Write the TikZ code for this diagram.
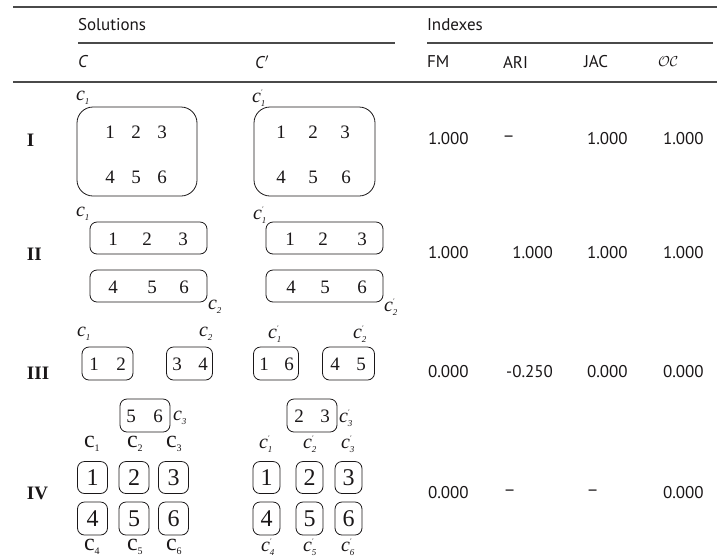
\documentclass[tikz,border=0pt]{standalone}
\usepackage{fontspec}
\usepackage{graphicx}
\setmainfont{PT Sans}
\newfontfamily\tnr{Liberation Serif}
\definecolor{ink}{HTML}{1A1718}
\definecolor{rulec}{HTML}{4A4A4A}
\newcommand{\csub}[1]{\raisebox{-4pt}{\fontsize{9}{9}\selectfont\itshape #1}}
\newcommand{\lc}[1]{{\tnr\fontsize{20}{20}\selectfont\itshape c\csub{#1}}}
\newcommand{\lcp}[1]{{\tnr\fontsize{20}{20}\selectfont\itshape c\rlap{\raisebox{8pt}{\fontsize{7}{7}\selectfont\char"2032}}\csub{#1}}}
\newcommand{\uc}[1]{{\tnr\fontsize{24}{24}\selectfont c\raisebox{-4pt}{\fontsize{10}{10}\selectfont #1}}}
\newcommand{\dsh}{\scalebox{0.8}[1]{—}}
\begin{document}
\begin{tikzpicture}[x=1pt,y=-1pt,
  every node/.style={inner sep=0pt,outer sep=0pt,text=ink},
  hdr/.style={anchor=west,font=\fontsize{17}{17}\selectfont},
  val/.style={anchor=west,font=\fontsize{17}{17}\selectfont},
  valr/.style={anchor=east,font=\fontsize{17}{17}\selectfont},
  rn/.style={anchor=west,font=\tnr\bfseries\fontsize{19}{19}\selectfont},
  lab/.style={anchor=west},
  bx/.style={draw=ink,line width=0.8pt,rounded corners=7pt},
  bigbx/.style={draw=ink,line width=0.8pt,rounded corners=16pt},
  dg/.style={font=\tnr\fontsize{19}{19}\selectfont},
  dgb/.style={font=\tnr\fontsize{24}{24}\selectfont},
  rl/.style={draw=rulec,line width=1.1pt}]
\useasboundingbox (0,0) rectangle (717,558);
% rules
\draw[rl,line width=1.5pt] (13,7) -- (717,7);
\draw[rl] (78,43) -- (395,43);
\draw[rl] (427,43) -- (713,43);
\draw[rl] (13,82) -- (717,82);
% headers
\node[hdr] (hsol) at (78,25) {Solutions};
\node[hdr] (hidx) at (427,25) {Indexes};
\node[hdr] (hc) at (78,62) {\textit{C}};
\node[hdr] (hcp) at (255,62) {\textit{C}$'$};
\node[hdr] (hfm) at (427,62) {FM};
\node[hdr] (hari) at (503,62) {ARI};
\node[hdr] (hjac) at (584,62) {JAC};
\node[hdr] (hoc) at (658,62) {\fontsize{15}{15}\selectfont$\mathcal{OC}$};
% row labels
\node[rn] (r1) at (27,140) {I};
\node[rn] (r2) at (27,254) {II};
\node[rn] (r3) at (27,373) {III};
\node[rn] (r4) at (27,493) {IV};
% values
\node[val] (v1a) at (428,139) {1.000};
\node[val] (v1b) at (503,139) {\dsh};
\node[val] (v1c) at (587,139) {1.000};
\node[val] (v1d) at (663,139) {1.000};
\node[val] (v2a) at (428,253) {1.000};
\node[valr] (v2b) at (553,253) {1.000};
\node[val] (v2c) at (587,253) {1.000};
\node[val] (v2d) at (663,253) {1.000};
\node[val] (v3a) at (428,372) {0.000};
\node[valr] (v3b) at (553,372) {-0.250};
\node[val] (v3c) at (587,372) {0.000};
\node[val] (v3d) at (663,372) {0.000};
\node[val] (v4a) at (428,493) {0.000};
\node[val] (v4b) at (504,493) {\dsh};
\node[val] (v4c) at (587,493) {\dsh};
\node[val] (v4d) at (663,493) {0.000};
% ---------- Row I
\node[bigbx,minimum width=120pt,minimum height=89pt] (b1c) at (137,151.5) {};
\node[bigbx,minimum width=121pt,minimum height=89pt] (b1p) at (314.5,151.5) {};
\node[lab] (l1c) at (76,98) {\lc{1}};
\node[lab] (l1p) at (252,98) {\lcp{1}};
\node[dg] (d1a) at (110,132) {1};
\node[dg] (d1b) at (136,132) {2};
\node[dg] (d1c) at (162,132) {3};
\node[dg] (d1d) at (110,177) {4};
\node[dg] (d1e) at (136,177) {5};
\node[dg] (d1f) at (162,177) {6};
\node[dg] (e1a) at (281,132) {1};
\node[dg] (e1b) at (313,132) {2};
\node[dg] (e1c) at (345,132) {3};
\node[dg] (e1d) at (281,177) {4};
\node[dg] (e1e) at (313,177) {5};
\node[dg] (e1f) at (346,177) {6};
% ---------- Row II
\node[bx,minimum width=117pt,minimum height=32pt] (b2a) at (148.5,238) {};
\node[bx,minimum width=117pt,minimum height=32pt] (b2b) at (148.5,286) {};
\node[bx,minimum width=117pt,minimum height=32pt] (b2c) at (324.5,238) {};
\node[bx,minimum width=117pt,minimum height=32pt] (b2d) at (324.5,286) {};
\node[lab] (l2a) at (76,214) {\lc{1}};
\node[lab] (l2b) at (208,307) {\lc{2}};
\node[lab] (l2c) at (253,215) {\lcp{1}};
\node[lab] (l2d) at (384,307) {\lcp{2}};
\node[dg] (d2a) at (113,239) {1};
\node[dg] (d2b) at (147,239) {2};
\node[dg] (d2c) at (183,239) {3};
\node[dg] (d2d) at (113,287) {4};
\node[dg] (d2e) at (152,287) {5};
\node[dg] (d2f) at (184,287) {6};
\node[dg] (e2a) at (290,239) {1};
\node[dg] (e2b) at (323,239) {2};
\node[dg] (e2c) at (362,239) {3};
\node[dg] (e2d) at (291,287) {4};
\node[dg] (e2e) at (325,287) {5};
\node[dg] (e2f) at (362,287) {6};
% ---------- Row III
\node[bx,minimum width=51pt,minimum height=33pt] (b3a) at (107.5,363.5) {};
\node[bx,minimum width=46pt,minimum height=33pt] (b3b) at (189.5,363.5) {};
\node[bx,minimum width=50pt,minimum height=33pt] (b3c) at (145,415.5) {};
\node[bx,minimum width=45pt,minimum height=33pt] (b3d) at (276,363.5) {};
\node[bx,minimum width=52pt,minimum height=33pt] (b3e) at (348.5,363.5) {};
\node[bx,minimum width=50pt,minimum height=33pt] (b3f) at (312,415.5) {};
\node[lab] (l3a) at (77,334) {\lc{1}};
\node[lab] (l3b) at (199,334) {\lc{2}};
\node[lab] (l3c) at (173,418) {\lc{3}};
\node[lab] (l3d) at (268,334) {\lcp{1}};
\node[lab] (l3e) at (353,334) {\lcp{2}};
\node[lab] (l3f) at (339,418) {\lcp{3}};
\node[dg] (d3a) at (94,364) {1};
\node[dg] (d3b) at (121,364) {2};
\node[dg] (d3c) at (177,364) {3};
\node[dg] (d3d) at (203,364) {4};
\node[dg] (d3e) at (131,416) {5};
\node[dg] (d3f) at (158,416) {6};
\node[dg] (e3a) at (264,364) {1};
\node[dg] (e3b) at (289,364) {6};
\node[dg] (e3c) at (335,364) {4};
\node[dg] (e3d) at (361,364) {5};
\node[dg] (e3e) at (299,416) {2};
\node[dg] (e3f) at (325,416) {3};
% ---------- Row IV
\foreach \n/\x/\d in {a/92.5/1,b/134/2,c/173.5/3}{
  \node[bx,minimum width=30pt,minimum height=32pt] (b4\n) at (\x,477.5) {};
  \node[dgb] (d4\n) at (\x,478) {\d};}
\foreach \n/\x/\d in {d/92.5/4,e/134/5,f/173.5/6}{
  \node[bx,minimum width=30pt,minimum height=33pt] (b4\n) at (\x,518.5) {};
  \node[dgb] (d4\n) at (\x,519) {\d};}
\foreach \n/\x/\d in {a/266.5/1,b/309.5/2,c/348.5/3}{
  \node[bx,minimum width=27pt,minimum height=32pt] (c4\n) at (\x,477.5) {};
  \node[dgb] (e4\n) at (\x,478) {\d};}
\foreach \n/\x/\d in {d/266.5/4,e/309.5/5,f/348.5/6}{
  \node[bx,minimum width=27pt,minimum height=33pt] (c4\n) at (\x,518.5) {};
  \node[dgb] (e4\n) at (\x,519) {\d};}
\node[lab] (l4a) at (84,444) {\uc{1}};
\node[lab] (l4b) at (127,444) {\uc{2}};
\node[lab] (l4c) at (166,444) {\uc{3}};
\node[lab] (l4d) at (84,547) {\uc{4}};
\node[lab] (l4e) at (127,547) {\uc{5}};
\node[lab] (l4f) at (166,547) {\uc{6}};
\node[lab] (l4g) at (259,444) {\lcp{1}};
\node[lab] (l4h) at (303,444) {\lcp{2}};
\node[lab] (l4i) at (341,444) {\lcp{3}};
\node[lab] (l4j) at (261,547) {\lcp{4}};
\node[lab] (l4k) at (303,547) {\lcp{5}};
\node[lab] (l4l) at (341,547) {\lcp{6}};
\end{tikzpicture}
\end{document}
